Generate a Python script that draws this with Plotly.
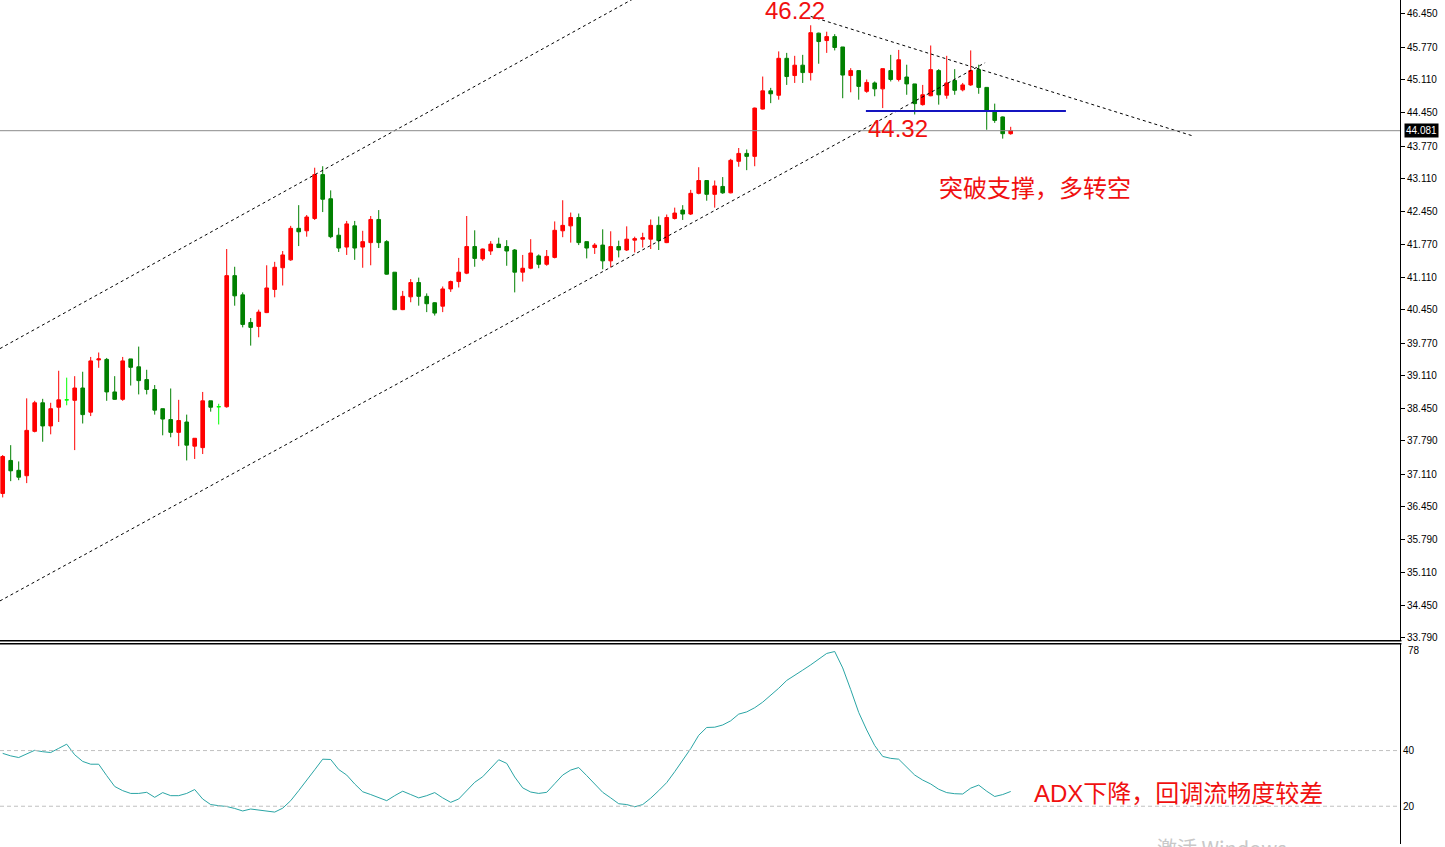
import plotly.graph_objects as go

# ---------------- data ----------------
opens = [36.72,37.39,37.19,37.08,37.98,38.56,38.09,38.47,38.62,38.61,
         38.86,38.37,39.43,39.44,38.78,38.63,39.45,39.29,39.03,38.83,
         38.44,38.22,37.96,38.17,37.68,37.65,38.60,38.48,38.48,41.14,
         40.75,40.19,40.11,40.39,40.86,41.30,41.46,42.10,42.05,42.30,
         43.19,42.70,41.96,41.72,42.15,41.72,41.81,42.28,41.83,41.21,
         40.45,40.71,41.00,40.72,40.59,40.52,40.87,41.02,41.19,41.73,
         41.48,41.64,41.78,41.73,41.66,41.21,41.29,41.54,41.37,41.51,
         42.05,42.15,42.32,41.83,41.71,41.76,41.44,41.73,41.66,41.86,
         41.88,41.88,42.16,41.81,42.30,42.47,42.39,42.81,43.07,42.79,
         42.95,42.82,43.46,43.62,43.56,44.52,44.89,44.80,45.55,45.20,
         45.41,45.26,46.06,45.91,45.99,45.78,45.20,45.30,44.88,45.05,
         44.93,45.30,45.12,45.17,45.03,44.61,44.79,45.30,44.80,45.10,
         44.91,45.01,45.32,44.96,44.48,44.36,44.02]

closes = [37.47,37.18,37.05,38.00,38.56,38.09,38.44,38.62,38.62,38.86,
          38.32,39.41,39.45,38.78,38.63,39.41,39.28,39.01,38.83,38.41,
          38.23,37.96,38.20,37.70,37.84,38.60,38.47,38.48,41.14,40.73,
          40.15,40.09,40.40,40.89,41.31,41.56,42.10,42.03,42.33,43.19,
          42.69,41.93,41.70,42.19,41.70,41.83,42.28,41.81,41.17,40.45,
          40.72,41.00,40.72,40.57,40.38,40.87,41.02,41.21,41.73,41.49,
          41.68,41.78,41.71,41.64,41.21,41.29,41.60,41.37,41.53,42.06,
          42.16,42.32,41.81,41.70,41.76,41.44,41.73,41.66,41.88,41.89,
          41.91,42.16,41.85,42.32,42.41,42.39,42.81,43.07,42.79,42.96,
          42.82,43.48,43.62,43.56,44.54,44.89,44.83,45.55,45.18,45.41,
          45.26,46.07,45.89,45.99,45.77,45.21,45.30,44.98,45.06,44.93,
          45.34,45.12,45.52,45.03,44.63,44.81,45.32,44.81,45.05,44.90,
          45.01,45.30,44.96,44.48,44.29,44.02,44.081]

highs = [37.50,37.70,37.37,38.65,38.60,38.64,38.56,39.21,39.07,39.10,
         39.19,39.49,39.58,39.47,39.10,39.49,39.45,39.70,39.23,38.92,
         38.44,38.85,38.62,38.32,37.84,38.78,38.60,38.54,41.68,41.32,
         40.80,40.28,40.45,41.35,41.42,41.64,42.15,42.57,42.37,43.33,
         43.36,42.87,42.11,42.25,42.25,42.05,42.35,42.47,41.86,41.21,
         40.83,41.07,41.10,40.78,40.60,40.92,41.04,41.50,42.35,42.06,
         41.69,41.84,41.91,41.86,41.68,41.56,41.88,41.57,41.66,42.24,
         42.67,42.42,42.40,41.83,41.80,42.08,42.04,41.85,42.14,41.93,
         42.01,42.28,42.34,42.38,42.52,42.57,42.88,43.34,43.07,43.07,
         43.14,43.51,43.73,43.70,44.55,45.18,44.95,45.69,45.66,45.60,
         45.62,46.22,46.07,46.09,46.04,45.78,45.35,45.30,45.12,45.08,
         45.34,45.62,45.72,45.42,45.03,45.01,45.81,45.33,45.60,45.33,
         45.05,45.71,45.42,44.96,44.63,44.37,44.16]

lows = [36.64,36.97,36.99,36.93,37.96,37.77,37.92,38.17,38.51,37.60,
        38.14,38.29,39.27,38.60,38.62,38.60,38.91,38.73,38.73,38.32,
        37.90,37.86,37.68,37.39,37.42,37.52,38.38,38.12,38.46,40.53,
        40.09,39.72,39.89,40.38,40.70,40.94,41.44,41.74,41.93,42.27,
        42.43,41.90,41.62,41.56,41.46,41.30,41.35,41.70,41.16,40.44,
        40.44,40.60,40.53,40.40,40.33,40.40,40.81,40.90,41.17,41.32,
        41.44,41.56,41.71,41.34,40.80,41.02,41.27,41.29,41.34,41.49,
        41.92,41.81,41.76,41.49,41.58,41.27,41.31,41.51,41.64,41.61,
        41.71,41.68,41.66,41.80,42.28,42.27,42.37,42.79,42.66,42.52,
        42.80,42.81,43.35,43.28,43.36,44.51,44.64,44.71,45.01,45.05,
        45.05,45.10,45.44,45.66,45.71,44.74,44.86,44.71,44.85,44.78,
        44.54,45.08,45.08,44.81,44.41,44.59,44.78,44.61,44.73,44.81,
        44.88,44.99,44.83,44.10,44.24,43.92,44.00]

adx = [39.0,38.1,37.5,38.9,40.1,39.6,39.3,40.8,42.3,38.5,
       36.1,35.1,35.1,31.0,27.1,25.6,24.6,24.6,25.0,23.2,
       24.9,23.8,23.8,24.6,26.0,22.6,20.6,20.2,19.9,19.2,
       18.3,19.0,18.6,18.1,17.9,19.3,22.0,25.6,29.2,33.1,
       36.9,36.8,33.2,31.2,28.0,25.2,24.2,23.2,22.0,23.8,
       25.4,24.2,23.0,23.8,24.9,23.0,21.4,22.6,25.8,28.6,
       30.6,33.6,36.7,35.4,30.5,26.6,25.1,24.6,25.0,28.1,
       31.2,33.0,33.9,31.0,27.8,25.0,23.0,20.9,20.6,19.8,
       20.6,22.9,25.6,28.5,32.4,36.4,40.7,45.5,48.3,48.4,
       49.2,50.7,53.1,53.9,55.4,57.4,59.8,62.4,65.2,67.2,
       68.9,70.8,72.8,74.9,75.6,69.7,61.9,53.7,47.4,41.8,
       37.9,37.2,36.9,34.1,31.2,29.4,28.0,26.1,24.9,24.5,
       24.4,26.5,27.6,25.4,23.5,24.2,25.3]

price_ticks = [46.450, 45.770, 45.110, 44.450, 43.770, 43.110, 42.450, 41.770,
               41.110, 40.450, 39.770, 39.110, 38.450, 37.790, 37.110, 36.450,
               35.790, 35.110, 34.450, 33.790]
adx_levels = [20, 40]
last_price = 44.081

# drawn lines (index, price)
chan_up_x, chan_up_y = [-0.34, 87.0], [39.66, 47.49]
chan_dn_x, chan_dn_y = [-0.34, 122.8], [34.54, 45.46]
resist_x, resist_y = [101.0, 148.66], [46.40, 43.98]
support_x, support_y = [107.9, 132.9], [44.48, 44.48]

RED = "#ff0000"
GREEN = "#008000"
LIME = "#00ff00"

n = len(opens)
idx = list(range(n))
up = [i for i in idx if closes[i] > opens[i]]
dn = [i for i in idx if closes[i] < opens[i]]
dj = [i for i in idx if closes[i] == opens[i]]


def sub(lst, ids):
    return [lst[i] for i in ids]


fig = go.Figure()


def add_candles(ids, color):
    fig.add_trace(go.Candlestick(
        x=ids, open=sub(opens, ids), high=sub(highs, ids),
        low=sub(lows, ids), close=sub(closes, ids),
        increasing=dict(line=dict(color=color, width=1), fillcolor=color),
        decreasing=dict(line=dict(color=color, width=1), fillcolor=color),
        whiskerwidth=0, hoverinfo="skip", showlegend=False,
        xaxis="x", yaxis="y"))


add_candles(up, RED)
add_candles(dn, GREEN)
add_candles(dj, LIME)

dotted = dict(color="black", width=1, dash="3px,3px")
for xs, ys in [(chan_up_x, chan_up_y), (chan_dn_x, chan_dn_y), (resist_x, resist_y)]:
    fig.add_trace(go.Scatter(x=xs, y=ys, mode="lines", line=dotted,
                             hoverinfo="skip", showlegend=False,
                             xaxis="x", yaxis="y"))
fig.add_trace(go.Scatter(x=support_x, y=support_y, mode="lines",
                         line=dict(color="#1414c0", width=2),
                         hoverinfo="skip", showlegend=False,
                         xaxis="x", yaxis="y"))

# ADX line
fig.add_trace(go.Scatter(x=idx, y=adx, mode="lines",
                         line=dict(color="#2aa5a5", width=1),
                         hoverinfo="skip", showlegend=False,
                         xaxis="x2", yaxis="y2"))

W, H = 1445, 847
XR = 1400 / W
main_bottom = 1 - 643 / H
adx_top = 1 - 646 / H

shapes = []
# current price line
shapes.append(dict(type="line", xref="paper", yref="y", x0=0, x1=XR,
                   y0=last_price, y1=last_price,
                   line=dict(color="#8c8c8c", width=1)))
# ADX level lines
for lv in adx_levels:
    shapes.append(dict(type="line", xref="paper", yref="y2", x0=0, x1=XR,
                       y0=lv, y1=lv,
                       line=dict(color="#c0c0c0", width=1, dash="4px,3px")))
# panel separators
for yy in [main_bottom, adx_top]:
    shapes.append(dict(type="line", xref="paper", yref="paper", x0=0, x1=XR + 0.001,
                       y0=yy, y1=yy, line=dict(color="black", width=1.5)))

fs = "Liberation Sans, Arial, sans-serif"
cjk = "Liberation Sans, Noto Sans CJK SC, sans-serif"
annotations = [
    dict(x=99.0, y=46.51, xref="x", yref="y", text="46.22", showarrow=False,
         font=dict(family=fs, size=24, color="#f01010")),
    dict(x=111.9, y=44.125, xref="x", yref="y", text="44.32", showarrow=False,
         font=dict(family=fs, size=24, color="#f01010")),
    dict(x=129.0, y=42.95, xref="x", yref="y", text="突破支撑，多转空", showarrow=False,
         font=dict(family="Noto Sans CJK SC, sans-serif", size=24, color="#f01010")),
    dict(x=147.0, y=24.6, xref="x2", yref="y2", text="ADX下降，回调流畅度较差",
         showarrow=False, font=dict(family=cjk, size=24, color="#f01010")),
    dict(x=XR + 0.0025, y=last_price, xref="paper", yref="y", text="44.081",
         xanchor="left", showarrow=False, bgcolor="black", borderpad=1,
         font=dict(family=fs, size=10, color="white")),
    dict(x=XR + 0.004, y=76.1, xref="paper", yref="y2", text="78",
         xanchor="left", showarrow=False,
         font=dict(family=fs, size=10, color="black")),
    dict(x=1155 / W, y=1 - 834 / H, xref="paper", yref="paper", text="激活 Windows",
         showarrow=False, xanchor="left", yanchor="top",
         font=dict(family="Noto Sans CJK SC, sans-serif", size=20, color="#c8c8c8")),
]

fig.update_layout(
    width=W, height=H,
    margin=dict(l=0, r=0, t=0, b=0),
    paper_bgcolor="white", plot_bgcolor="white",
    showlegend=False,
    boxgap=0.35,
    hovermode=False,
    xaxis=dict(domain=[0, XR], range=[-0.3375, 174.66], anchor="y",
               showgrid=False, zeroline=False, showticklabels=False,
               ticks="", showline=False, rangeslider=dict(visible=False),
               fixedrange=True),
    xaxis2=dict(domain=[0, XR], range=[-0.3375, 174.66], anchor="y2",
                matches="x", showgrid=False, zeroline=False,
                showticklabels=False, ticks="", showline=False),
    yaxis=dict(domain=[main_bottom, 1], range=[33.732, 46.733], side="right",
               anchor="x", showgrid=False, zeroline=False,
               tickvals=price_ticks, ticktext=[f"{v:.3f}" for v in price_ticks],
               ticks="outside", ticklen=4, tickcolor="black",
               showline=True, linecolor="black", linewidth=1,
               tickfont=dict(family=fs, size=10, color="black")),
    yaxis2=dict(domain=[0, adx_top], range=[6.43, 78.4], side="right",
                anchor="x2", showgrid=False, zeroline=False,
                tickvals=adx_levels, ticks="", ticklen=4,
                showline=True, linecolor="black", linewidth=1,
                tickfont=dict(family=fs, size=10, color="black")),
    shapes=shapes,
    annotations=annotations,
)

post = (
    "document.documentElement.style.margin='0';"
    "document.documentElement.style.overflow='hidden';"
    "document.body.style.margin='0';"
    "document.body.style.padding='0';"
    "document.body.style.overflow='hidden';"
)

fig.write_html("out.html", config={"displayModeBar": False}, post_script=post)
